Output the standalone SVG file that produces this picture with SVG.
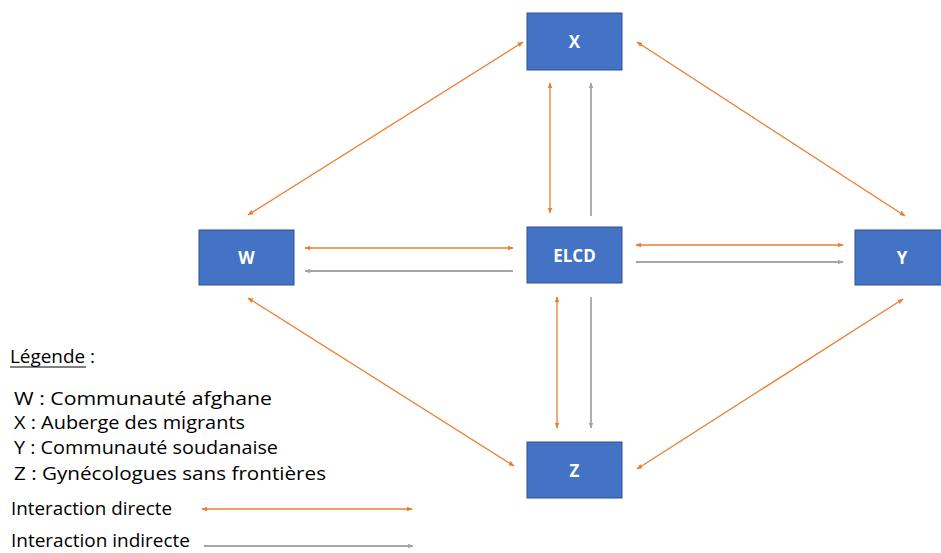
<svg xmlns="http://www.w3.org/2000/svg" width="941" height="553" viewBox="0 0 941 553">
<defs>
<marker id="ao" viewBox="0 0 10 10" refX="9" refY="5" markerWidth="6" markerHeight="6" orient="auto-start-reverse" markerUnits="userSpaceOnUse"><path d="M0,1 L10,5 L0,9 z" fill="#ED7D31"/></marker>
<marker id="ag" viewBox="0 0 10 10" refX="9" refY="5" markerWidth="6" markerHeight="6" orient="auto-start-reverse" markerUnits="userSpaceOnUse"><path d="M0,1 L10,5 L0,9 z" fill="#A5A5A5"/></marker>
</defs>
<style>
.box{fill:#4472C4;stroke:#2F528F;stroke-width:1}
.lbl{fill:#fff;font-family:"Open Sans","Liberation Sans",sans-serif;font-weight:bold;font-size:17px;text-anchor:middle;dominant-baseline:central}
.d{stroke:#ED7D31;stroke-width:1.3;fill:none;marker-start:url(#ao);marker-end:url(#ao)}
.i{stroke:#A5A5A5;stroke-width:1.8;fill:none;marker-end:url(#ag)}
.leg{fill:#000;font-family:"Open Sans","Liberation Sans",sans-serif;font-size:19px}
.leg2{fill:#000;font-family:"Open Sans","Liberation Sans",sans-serif;font-size:18px}
</style>
<rect width="941" height="553" fill="#fff"/>
<g id="connectors">
<line class="d" x1="523" y1="42" x2="248" y2="215"/>
<line class="d" x1="637" y1="42" x2="905" y2="216"/>
<line class="d" x1="248" y1="298" x2="514" y2="466"/>
<line class="d" x1="903" y1="299" x2="637" y2="469"/>
<line class="d" x1="305" y1="248" x2="513" y2="248"/>
<line class="i" x1="513" y1="271" x2="305" y2="271"/>
<line class="d" x1="636" y1="245" x2="843" y2="245"/>
<line class="i" x1="636" y1="262" x2="843" y2="262"/>
<line class="d" x1="550" y1="83" x2="550" y2="213"/>
<line class="i" x1="591" y1="216" x2="591" y2="83"/>
<line class="d" x1="557" y1="297" x2="557" y2="428"/>
<line class="i" x1="591" y1="297" x2="591" y2="428"/>
</g>
<g id="X"><rect class="box" x="527" y="13" width="95" height="57"/><text class="lbl" x="574.5" y="41.5">X</text></g>
<g id="W"><rect class="box" x="199" y="230" width="95" height="55"/><text class="lbl" x="246.5" y="257.5">W</text></g>
<g id="ELCD"><rect class="box" x="527" y="227" width="95" height="56"/><text class="lbl" x="574.5" y="255">ELCD</text></g>
<g id="Y"><rect class="box" x="855" y="230" width="95" height="55"/><text class="lbl" x="902" y="257.5">Y</text></g>
<g id="Z"><rect class="box" x="527" y="442" width="95" height="56"/><text class="lbl" x="574.5" y="470">Z</text></g>
<g id="legend">
<text class="leg" x="10" y="363" textLength="85" lengthAdjust="spacingAndGlyphs">Légende :</text>
<line x1="10" y1="367" x2="86" y2="367" stroke="#000" stroke-width="1"/>
<text class="leg" x="14" y="405" textLength="258" lengthAdjust="spacingAndGlyphs">W : Communauté afghane</text>
<text class="leg" x="14" y="429" textLength="231" lengthAdjust="spacingAndGlyphs">X : Auberge des migrants</text>
<text class="leg" x="14" y="454" textLength="264" lengthAdjust="spacingAndGlyphs">Y : Communauté soudanaise</text>
<text class="leg" x="14" y="480" textLength="312" lengthAdjust="spacingAndGlyphs">Z : Gynécologues sans frontières</text>
<text class="leg2" x="11" y="515" textLength="161" lengthAdjust="spacingAndGlyphs">Interaction directe</text>
<line class="d" x1="202" y1="509" x2="412" y2="509"/>
<text class="leg2" x="11" y="547" textLength="179" lengthAdjust="spacingAndGlyphs">Interaction indirecte</text>
<line class="i" x1="204" y1="546" x2="413" y2="546"/>
</g>
</svg>
